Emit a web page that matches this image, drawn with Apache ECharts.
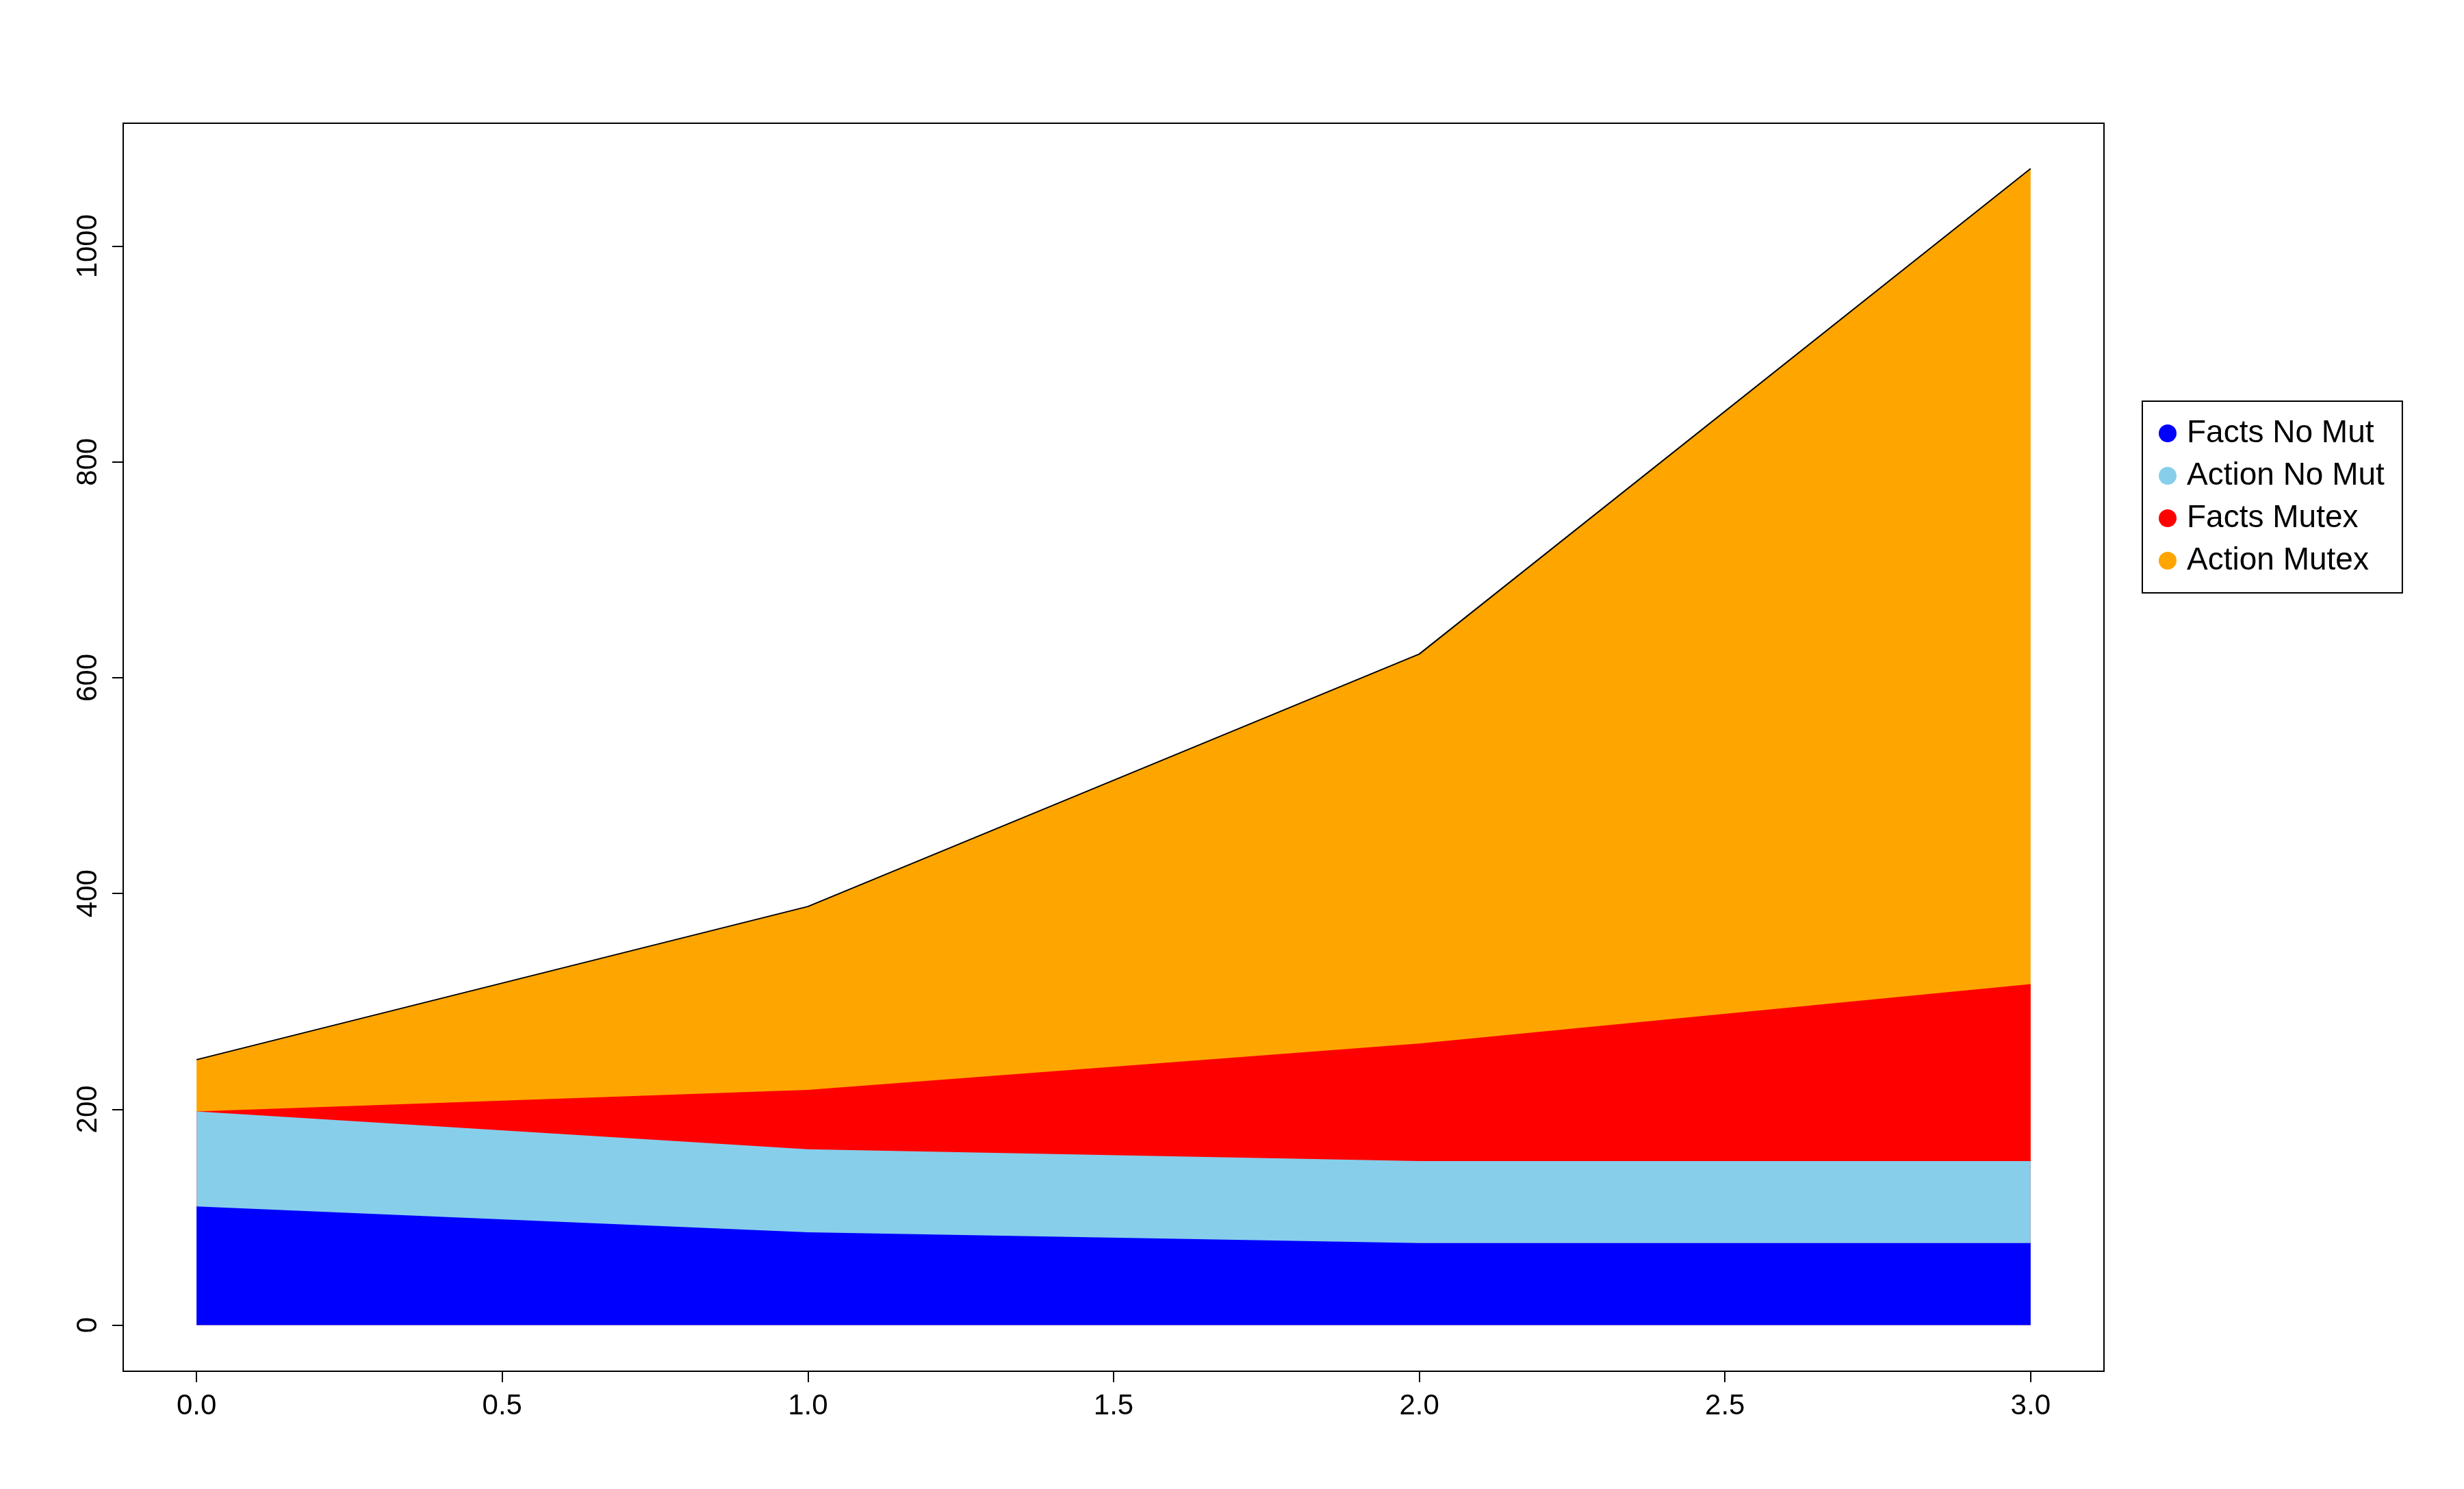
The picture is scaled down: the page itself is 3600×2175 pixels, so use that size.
<!DOCTYPE html>
<html><head><meta charset="utf-8">
<script src="https://cdn.jsdelivr.net/npm/echarts@6/dist/echarts.min.js"></script>
<style>html,body{margin:0;padding:0;background:#fff}#c{width:3600px;height:2175px}</style>
</head><body><div id="c"></div>
<script>
const xs = [0, 1, 2, 3];
const factsNoMut = [110, 86, 76, 76];
const actionNoMut = [88, 77, 76, 76];
const factsMutex = [0, 55, 109, 164];
const actionMutex = [48, 170, 361, 756];
const names = ['Facts No Mut', 'Action No Mut', 'Facts Mutex', 'Action Mutex'];
const colors = ['#0000FF', '#87CEEB', '#FF0000', '#FFA500'];
const data = [factsNoMut, actionNoMut, factsMutex, actionMutex];
const xTicks = [0, 0.5, 1, 1.5, 2, 2.5, 3];
const yTicks = [0, 200, 400, 600, 800, 1000];
const font = 'Liberation Sans';
// cumulative sums (stack), drawn top layer first so lower layers overlay
const cum = [];
data.forEach((arr, i) => { cum.push(arr.map((v, j) => v + (i ? cum[i-1][j] : 0))); });
const chart = echarts.init(document.getElementById('c'));
const series = [];
for (let i = 3; i >= 0; i--) {
  series.push({
    name: names[i], type: 'line', symbol: 'none', color: colors[i], z: 2 + (3 - i),
    data: xs.map((x, j) => [x, cum[i][j]]),
    lineStyle: i === 3 ? {color: '#000', width: 2} : {width: 0, color: colors[i]},
    areaStyle: {color: colors[i], opacity: 1, origin: 'auto'}
  });
}
chart.setOption({
  animation: false,
  grid: {left: 180, right: 526, top: 180, bottom: 172, show: true, borderColor: '#000', borderWidth: 2, backgroundColor: 'transparent'},
  xAxis: {type: 'value', min: -0.12, max: 3.12,
    axisLine: {show: false, onZero: false}, splitLine: {show: false},
    axisTick: {show: true, inside: false, length: 16, lineStyle: {color: '#000', width: 2}, customValues: xTicks},
    axisLabel: {customValues: xTicks, color: '#000', fontSize: 42, fontFamily: font, margin: 30, formatter: v => v.toFixed(1)}},
  yAxis: {type: 'value', min: -42.8, max: 1114,
    axisLine: {show: false, onZero: false}, splitLine: {show: false},
    axisTick: {show: true, inside: false, length: 16, lineStyle: {color: '#000', width: 2}, customValues: yTicks},
    axisLabel: {customValues: yTicks, color: '#000', fontSize: 42, fontFamily: font, margin: 30, rotate: 90, verticalAlign: 'bottom', align: 'center', formatter: v => String(v)}},
  legend: {orient: 'vertical', left: 3130, top: 586, width: 429, padding: [24, 26, 24, 24], itemGap: 16,
    borderColor: '#000', borderWidth: 2, icon: 'circle', itemWidth: 26, itemHeight: 26,
    textStyle: {fontSize: 46, fontFamily: font, color: '#000', padding: [0, 0, 0, 10]}, data: names},
  series: series
});
</script></body></html>
